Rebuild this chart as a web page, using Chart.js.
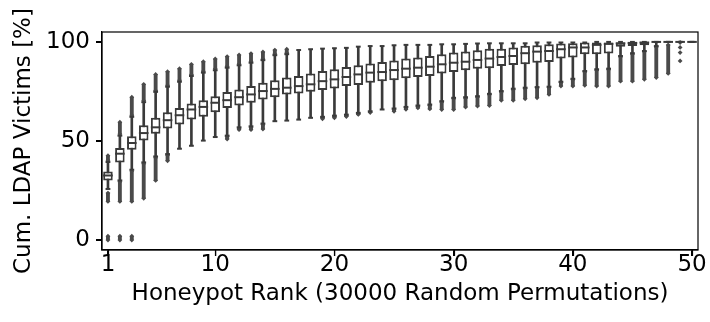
<!DOCTYPE html>
<html>
<head>
<meta charset="utf-8">
<script src="https://cdn.jsdelivr.net/npm/chart.js@4.4.1/dist/chart.umd.min.js"></script>
<style>
  body { margin: 0; background: #fff; }
  #wrap { width: 710px; height: 322px; }
</style>
</head>
<body>
<div id="wrap"><canvas id="rankChart"></canvas></div>
<script>
// honeypot rank 1..50, box stats of cumulative victims [%]
const ranks = [1, 2, 3, 4, 5, 6, 7, 8, 9, 10, 11, 12, 13, 14, 15, 16, 17, 18, 19, 20,
  21, 22, 23, 24, 25, 26, 27, 28, 29, 30, 31, 32, 33, 34, 35, 36, 37, 38, 39, 40,
  41, 42, 43, 44, 45, 46, 47, 48, 49, 50];
const q1 = [30.1, 39.2, 45.6, 50.3, 53.6, 56.3, 58.3, 60.8, 62.2, 64.5, 66.7, 67.9, 69.3, 70.9, 72.1, 73.5, 74.0, 74.8, 75.7, 76.5,
  77.7, 78.2, 79.4, 80.2, 80.6, 81.6, 82.3, 82.8, 84.0, 84.8, 85.7, 86.5, 86.7, 87.8, 88.3, 88.7, 89.5, 89.9, 91.6, 92.1,
  93.8, 93.8, 94.1, 97.6, 97.9, 98.3, 99.7, 100, 100, 100];
const median = [32.6, 43.6, 49.0, 54.0, 56.9, 60.5, 63.0, 65.9, 67.2, 69.3, 70.6, 72.1, 73.5, 75.2, 76.3, 76.9, 77.7, 78.6, 80.2, 81.1,
  82.3, 83.6, 84.5, 84.8, 85.8, 86.5, 87.0, 87.5, 88.7, 89.5, 90.0, 90.9, 91.6, 92.4, 92.9, 94.3, 95.1, 95.4, 96.3, 97.2,
  97.2, 98.5, 99.0, 99.3, 99.5, 99.7, 100, 100, 100, 100];
const q3 = [34.6, 46.5, 52.4, 58.0, 61.7, 64.5, 66.7, 68.9, 70.6, 72.6, 74.7, 76.0, 77.7, 79.4, 80.7, 82.0, 82.8, 84.0, 85.3, 86.2,
  87.3, 88.2, 89.1, 89.9, 90.6, 91.6, 92.1, 92.9, 93.8, 94.6, 95.1, 95.8, 96.6, 96.6, 97.2, 98.0, 98.3, 98.8, 99.2, 99.3,
  99.7, 99.7, 99.7, 99.7, 99.7, 100, 100, 100, 100, 100];
const whiskerLow = [25.8, 30.1, 35.5, 39.2, 42.2, 43.4, 46.1, 47.6, 50.2, 52.0, 52.7, 56.9, 57.4, 58.8, 60.0, 60.3, 60.8, 61.7, 62.2, 62.8,
  63.3, 64.2, 65.0, 65.9, 66.4, 67.2, 67.9, 68.4, 70.1, 71.8, 72.1, 72.6, 73.8, 75.2, 76.4, 76.9, 77.2, 77.4, 79.9, 81.4,
  85.3, 86.2, 86.5, 92.9, 94.3, 95.4, 97.9, 100, 100, 100];
const whiskerHigh = [39.4, 52.7, 62.2, 69.6, 74.8, 77.4, 79.9, 82.8, 84.5, 85.7, 87.0, 88.2, 89.5, 90.8, 93.3, 93.8, 95.9, 96.3, 96.6, 96.8,
  97.0, 97.6, 97.9, 97.9, 98.3, 98.5, 98.5, 98.5, 98.8, 98.8, 99.0, 99.2, 99.3, 99.3, 99.3, 99.3, 99.7, 99.7, 99.7, 99.7,
  99.7, 100, 100, 100, 100, 100, 100, 100, 100, 100];

// flier spans below / above the whiskers (null = none)
const lowFlierMin = [19.5, 19.5, 19.5, 21.1, 30.1, 40.0, null, null, null, null, 51.0, 55.7, 55.7, 56.0, null, null, null, null, 61.2, 61.7,
  62.3, 63.4, 64.5, null, 65.0, 66.0, 66.7, 66.2, 65.9, 65.9, 67.1, 67.6, 67.9, 70.5, 70.5, 71.3, 71.8, 73.5, 77.7, 77.7,
  78.1, 77.7, 77.7, 80.2, 80.2, 81.1, 82.0, 84.1, null, null];
const lowFlierMax = [23.7, 29.4, 34.8, 38.5, 41.5, 42.8, null, null, null, null, 52.2, 56.4, 56.8, 58.2, null, null, null, null, 61.7, 62.3,
  62.8, 63.7, 64.5, null, 65.8, 66.6, 67.4, 67.9, 69.6, 71.3, 71.6, 72.1, 73.3, 74.7, 75.9, 76.4, 76.7, 76.9, 79.4, 80.9,
  84.8, 85.7, 86.0, 92.4, 93.8, 95.0, 97.4, 98.5, null, null];
const highFlierMin = [40.3, 53.5, 63.0, 70.4, 75.5, 78.1, 80.6, 83.5, 85.2, 86.4, 87.7, 88.9, 90.2, 91.4, 93.9, 94.4, null, null, null, null,
  null, null, null, null, null, null, null, null, null, null, null, null, null, null, null, null, null, null, null, null,
  null, null, null, null, null, null, null, null, null, null];
const highFlierMax = [42.6, 59.5, 72.1, 78.6, 83.6, 85.0, 86.5, 88.7, 90.0, 91.4, 92.6, 93.4, 94.1, 94.9, 95.9, 96.3, null, null, null, null,
  null, null, null, null, null, null, null, null, null, null, null, null, null, null, null, null, null, null, null, null,
  null, null, null, null, null, null, null, null, null, null];
// permutations that catch almost nobody in the first ranks
const zeroFlierRanks = [1, 2, 3];
const zeroFlierMin = [0, 0, 0];
const zeroFlierMax = [2.0, 2.0, 2.0];
// scattered single fliers of rank 49
const rank49Fliers = [99.7, 97.2, 94.6, 90.4];

const xTicks = [1, 10, 20, 30, 40, 50];
const yTicks = [0, 50, 100];

const EDGE = '#3a3a3a';
const FLIER = '#4a4a4a';
const TICK_LEN = 6;

const flierSpans = [];
const flierEnds = [];
ranks.forEach((r, i) => {
  if (lowFlierMin[i] !== null) {
    flierSpans.push({x: r, y: [lowFlierMin[i], lowFlierMax[i]]});
    flierEnds.push({x: r, y: lowFlierMin[i]}, {x: r, y: lowFlierMax[i]});
  }
  if (highFlierMin[i] !== null) {
    flierSpans.push({x: r, y: [highFlierMin[i], highFlierMax[i]]});
    flierEnds.push({x: r, y: highFlierMin[i]}, {x: r, y: highFlierMax[i]});
  }
});
zeroFlierRanks.forEach((r, i) => {
  flierSpans.push({x: r, y: [zeroFlierMin[i], zeroFlierMax[i]]});
  flierEnds.push({x: r, y: zeroFlierMin[i]}, {x: r, y: zeroFlierMax[i]});
});
rank49Fliers.forEach(v => flierEnds.push({x: 49, y: v}));

const caps = [];
ranks.forEach((r, i) => {
  caps.push({x: r, y: whiskerLow[i]}, {x: r, y: whiskerHigh[i]});
});

// four spines plus outward tick marks
const framePlugin = {
  id: 'frame',
  afterDraw(chart) {
    const {ctx, chartArea: a, scales} = chart;
    ctx.save();
    ctx.strokeStyle = '#000';
    ctx.lineWidth = 1.2;
    ctx.strokeRect(a.left, a.top, a.right - a.left, a.bottom - a.top);
    ctx.beginPath();
    xTicks.forEach(v => {
      const px = Math.round(scales.x.getPixelForValue(v)) + 0.5;
      ctx.moveTo(px, a.bottom);
      ctx.lineTo(px, a.bottom + TICK_LEN);
    });
    yTicks.forEach(v => {
      const py = Math.round(scales.y.getPixelForValue(v)) + 0.5;
      ctx.moveTo(a.left, py);
      ctx.lineTo(a.left - TICK_LEN, py);
    });
    ctx.stroke();
    ctx.restore();
  }
};

Chart.defaults.font.family = "'DejaVu Sans', sans-serif";
Chart.defaults.color = '#000';

new Chart(document.getElementById('rankChart'), {
  type: 'bar',
  data: {
    datasets: [
      {
        label: 'whiskers',
        data: ranks.map((r, i) => ({x: r, y: [whiskerLow[i], whiskerHigh[i]]})),
        backgroundColor: EDGE,
        barThickness: 2,
        grouped: false,
        order: 6
      },
      {
        label: 'fliers',
        data: flierSpans,
        backgroundColor: FLIER,
        barThickness: 3.2,
        grouped: false,
        order: 5
      },
      {
        type: 'scatter',
        label: 'flier ends',
        data: flierEnds,
        pointStyle: 'rectRot',
        radius: 2.4,
        backgroundColor: FLIER,
        borderWidth: 0,
        order: 4
      },
      {
        label: 'boxes',
        data: ranks.map((r, i) => ({x: r, y: [q1[i], q3[i]]})),
        backgroundColor: '#ffffff',
        borderColor: EDGE,
        borderWidth: 2,
        borderSkipped: false,
        barPercentage: 1,
        categoryPercentage: 0.8,
        grouped: false,
        order: 3
      },
      {
        type: 'scatter',
        label: 'medians',
        data: ranks.map((r, i) => ({x: r, y: median[i]})),
        pointStyle: 'line',
        radius: 4.8,
        borderColor: EDGE,
        borderWidth: 2,
        order: 2
      },
      {
        type: 'scatter',
        label: 'caps',
        data: caps,
        pointStyle: 'line',
        radius: 2.4,
        borderColor: EDGE,
        borderWidth: 2,
        order: 1
      }
    ]
  },
  options: {
    responsive: true,
    maintainAspectRatio: false,
    devicePixelRatio: 1,
    animation: false,
    layout: { padding: { left: 0, right: 12, top: 32, bottom: 0 } },
    plugins: { legend: { display: false }, tooltip: { enabled: false } },
    scales: {
      x: {
        type: 'linear',
        min: 0.5,
        max: 50.5,
        offset: false,
        afterBuildTicks: s => { s.ticks = xTicks.map(v => ({value: v})); },
        afterFit: s => { s.height = 72; },
        grid: { offset: false, drawOnChartArea: false, tickLength: TICK_LEN, color: '#000', lineWidth: 1.2 },
        border: { color: '#000', width: 1.2 },
        ticks: { font: { size: 23, lineHeight: 1 }, padding: -2, maxRotation: 0 },
        title: {
          display: true,
          text: 'Honeypot Rank (30000 Random Permutations)',
          font: { size: 23 },
          padding: { top: 0, bottom: 14 }
        }
      },
      y: {
        min: -5,
        max: 105,
        afterBuildTicks: s => { s.ticks = yTicks.map(v => ({value: v})); },
        afterFit: s => { s.width = 102; },
        grid: { drawOnChartArea: false, tickLength: TICK_LEN, color: '#000', lineWidth: 1.2 },
        border: { color: '#000', width: 1.2 },
        ticks: { font: { size: 23 }, padding: 6 },
        title: {
          display: true,
          text: 'Cum. LDAP Victims [%]',
          font: { size: 23 },
          padding: { top: 10, bottom: 0 }
        }
      }
    }
  },
  plugins: [framePlugin]
});
</script>
</body>
</html>
